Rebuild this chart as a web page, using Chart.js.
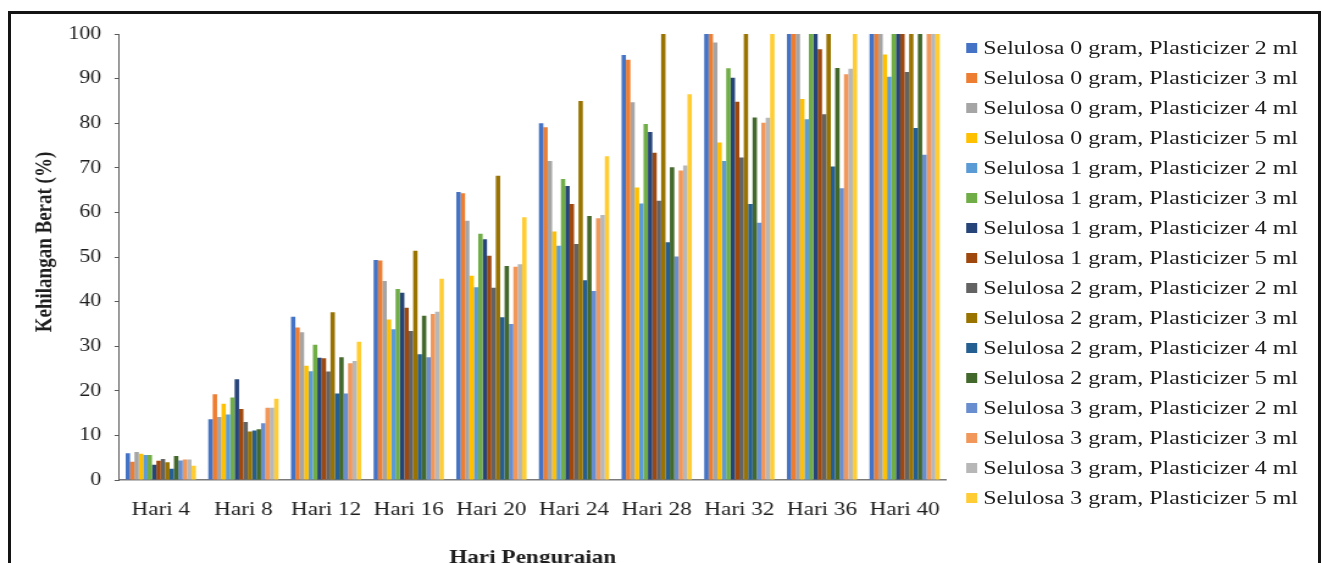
<!DOCTYPE html>
<html>
<head>
<meta charset="utf-8">
<script src="https://cdn.jsdelivr.net/npm/chart.js@4.4.1/dist/chart.umd.min.js"></script>
<style>
  html, body { margin: 0; padding: 0; background: #fff; width: 1322px; height: 563px; overflow: hidden; }
  #frame { position: absolute; left: 8px; top: 11px; width: 1313px; height: 620px; border: 3px solid #141414; box-sizing: border-box; }
  /* the whole figure is laid out at a narrower width and stretched horizontally */
  #figure { position: absolute; left: 0; top: 0; width: 1084px; height: 580px; transform: scaleX(1.22); transform-origin: 0 0; }
  #chart { position: absolute; left: 0; top: 0; }
  #legend { position: absolute; left: 792px; top: 33px; margin: 0; padding: 0; list-style: none;
            font-family: "Liberation Serif", "Times New Roman", serif; font-size: 19.6px; color: #1e1e1e; }
  #legend li { height: 30px; display: flex; align-items: center; white-space: nowrap; }
  #legend .sw { width: 9px; height: 10px; margin-right: 5px; flex: none; }
</style>
</head>
<body>
<div id="frame"></div>
<div id="figure">
  <canvas id="chart" width="787" height="580"></canvas>
  <ul id="legend"></ul>
</div>
<script>
// Days of degradation
const categories = ['Hari 4', 'Hari 8', 'Hari 12', 'Hari 16', 'Hari 20', 'Hari 24', 'Hari 28', 'Hari 32', 'Hari 36', 'Hari 40'];

// Weight loss (%) per formulation: cellulose (gram) / plasticizer (ml)
const sel0p2 = [6.0, 13.6, 36.6, 49.3, 64.6, 80.0, 95.3, 100, 100, 100];
const sel0p3 = [4.1, 19.2, 34.2, 49.2, 64.3, 79.1, 94.2, 100, 100, 100];
const sel0p4 = [6.3, 14.1, 33.1, 44.6, 58.1, 71.5, 84.7, 98.1, 100, 100];
const sel0p5 = [5.9, 17.1, 25.6, 36.0, 45.8, 55.7, 65.6, 75.7, 85.4, 95.4];
const sel1p2 = [5.6, 14.7, 24.4, 33.8, 43.2, 52.5, 62.0, 71.5, 80.9, 90.4];
const sel1p3 = [5.6, 18.5, 30.3, 42.8, 55.2, 67.5, 79.8, 92.3, 100, 100];
const sel1p4 = [3.4, 22.6, 27.4, 42.0, 54.0, 65.9, 78.0, 90.2, 100, 100];
const sel1p5 = [4.3, 15.9, 27.3, 38.6, 50.3, 61.9, 73.4, 84.8, 96.6, 100];
const sel2p2 = [4.7, 13.0, 24.3, 33.4, 43.1, 52.9, 62.6, 72.3, 82.0, 91.5];
const sel2p3 = [4.0, 10.9, 37.6, 51.4, 68.2, 85.0, 100, 100, 100, 100];
const sel2p4 = [2.5, 11.1, 19.4, 28.2, 36.5, 44.8, 53.3, 61.9, 70.3, 78.9];
const sel2p5 = [5.4, 11.4, 27.5, 36.8, 48.0, 59.2, 70.1, 81.3, 92.4, 100];
const sel3p2 = [4.4, 12.7, 19.4, 27.5, 35.0, 42.4, 50.1, 57.7, 65.4, 72.9];
const sel3p3 = [4.6, 16.2, 26.2, 37.2, 47.8, 58.7, 69.4, 80.1, 91.0, 100];
const sel3p4 = [4.6, 16.2, 26.7, 37.7, 48.4, 59.4, 70.5, 81.2, 92.2, 100];
const sel3p5 = [3.2, 18.2, 31.0, 45.1, 58.9, 72.6, 86.5, 100, 100, 100];

const seriesLabels = [
  'Selulosa 0 gram, Plasticizer 2 ml', 'Selulosa 0 gram, Plasticizer 3 ml',
  'Selulosa 0 gram, Plasticizer 4 ml', 'Selulosa 0 gram, Plasticizer 5 ml',
  'Selulosa 1 gram, Plasticizer 2 ml', 'Selulosa 1 gram, Plasticizer 3 ml',
  'Selulosa 1 gram, Plasticizer 4 ml', 'Selulosa 1 gram, Plasticizer 5 ml',
  'Selulosa 2 gram, Plasticizer 2 ml', 'Selulosa 2 gram, Plasticizer 3 ml',
  'Selulosa 2 gram, Plasticizer 4 ml', 'Selulosa 2 gram, Plasticizer 5 ml',
  'Selulosa 3 gram, Plasticizer 2 ml', 'Selulosa 3 gram, Plasticizer 3 ml',
  'Selulosa 3 gram, Plasticizer 4 ml', 'Selulosa 3 gram, Plasticizer 5 ml'
];
const seriesValues = [sel0p2, sel0p3, sel0p4, sel0p5, sel1p2, sel1p3, sel1p4, sel1p5,
                      sel2p2, sel2p3, sel2p4, sel2p5, sel3p2, sel3p3, sel3p4, sel3p5];
const seriesColors = ['#4472C4', '#ED7D31', '#A5A5A5', '#FFC000', '#5B9BD5', '#70AD47', '#264478', '#9E480E',
                      '#636363', '#997300', '#255E91', '#43682B', '#698ED0', '#F1975A', '#B7B7B7', '#FFCD33'];
const yTicks = [0, 10, 20, 30, 40, 50, 60, 70, 80, 90, 100];
const yTitle = 'Kehilangan Berat (%)';
const xTitle = 'Hari Penguraian';

const serif = '"Liberation Serif", "Times New Roman", serif';
const ink = '#1e1e1e';

const datasets = seriesValues.map((vals, i) => ({
  label: seriesLabels[i],
  data: vals,
  backgroundColor: seriesColors[i],
  borderWidth: 0,
  categoryPercentage: 0.85,
  barPercentage: 1.0
}));

// Vertical axis title, drawn a little above the middle of the value axis
const yTitlePlugin = {
  id: 'yTitle',
  afterDraw(chart) {
    const { ctx, chartArea } = chart;
    ctx.save();
    ctx.font = 'bold 19px ' + serif;
    ctx.fillStyle = ink;
    ctx.textAlign = 'center';
    ctx.textBaseline = 'middle';
    ctx.translate(37, (chartArea.top + chartArea.bottom) / 2 - 15);
    ctx.rotate(-Math.PI / 2);
    ctx.fillText(yTitle, 0, 0);
    ctx.restore();
  }
};

new Chart(document.getElementById('chart'), {
  type: 'bar',
  data: { labels: categories, datasets },
  plugins: [yTitlePlugin],
  options: {
    responsive: false,
    animation: false,
    events: [],
    layout: { padding: { left: 0, top: 34, right: 11.6, bottom: 0 } },
    plugins: { legend: { display: false }, tooltip: { enabled: false } },
    scales: {
      x: {
        grid: { display: false },
        border: { display: true, color: '#7a7a7a', width: 1.5 },
        ticks: { font: { family: serif, size: 19 }, color: ink, padding: 11, maxRotation: 0, autoSkip: false },
        title: { display: true, text: xTitle, color: ink,
                 font: { family: serif, size: 19, weight: 'bold' }, padding: { top: 0, bottom: 11 } },
        afterFit: s => { s.height = 100; }
      },
      y: {
        min: 0, max: 100,
        afterBuildTicks: s => { s.ticks = yTicks.map(v => ({ value: v })); },
        grid: { display: true, drawOnChartArea: false, drawTicks: true, tickLength: 4, color: '#5a5a5a', lineWidth: 1 },
        border: { display: true, color: '#5a5a5a', width: 1 },
        ticks: { font: { family: serif, size: 18 }, color: ink, padding: 11 },
        afterFit: s => { s.width = 97.9; }
      }
    }
  }
});

// Legend listing every formulation in series order
const legend = document.getElementById('legend');
seriesLabels.forEach((name, i) => {
  const li = document.createElement('li');
  const sw = document.createElement('span');
  sw.className = 'sw';
  sw.style.background = seriesColors[i];
  li.appendChild(sw);
  li.appendChild(document.createTextNode(name));
  legend.appendChild(li);
});
</script>
</body>
</html>
